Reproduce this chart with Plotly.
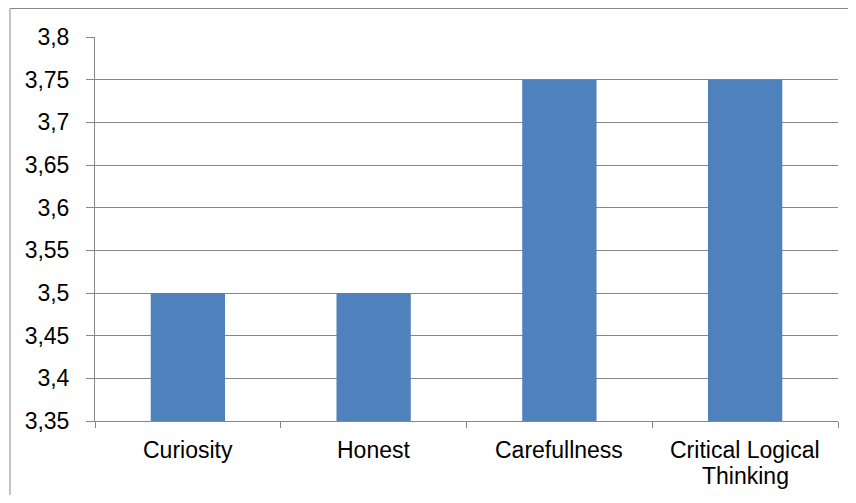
import plotly.graph_objects as go

categories = ["Curiosity", "Honest", "Carefullness", "Critical Logical<br>Thinking"]
values = [3.5, 3.5, 3.75, 3.75]
y_ticks = [3.35, 3.4, 3.45, 3.5, 3.55, 3.6, 3.65, 3.7, 3.75, 3.8]

# page body has an 8px margin
W, H = 840, 487
L, T = 87, 29
pw, ph = 743, 384
R, B = W - L - pw, H - T - ph
FS = 23

fig = go.Figure(go.Bar(x=categories, y=values, marker=dict(color="#4F81BD", line=dict(width=0)), width=0.4))

fig.update_layout(
    width=W, height=H,
    margin=dict(l=L, r=R, t=T, b=B, autoexpand=False),
    paper_bgcolor="white", plot_bgcolor="white",
    separators=",.",
    font=dict(family="Liberation Sans, Arial", size=FS, color="black"),
    showlegend=False,
    bargap=0.6,
)
fig.update_yaxes(
    range=[3.35, 3.8], tickvals=y_ticks, tickformat=".2~f",
    showgrid=True, gridcolor="#878787", gridwidth=1,
    showline=True, linecolor="#878787", linewidth=1,
    ticks="outside", ticklen=8, tickcolor="#878787",
    ticklabelstandoff=12,
    zeroline=False,
)
fig.update_xaxes(
    showline=True, linecolor="#878787", linewidth=1,
    ticks="outside", ticklen=6, tickcolor="#878787", tickson="boundaries",
    showticklabels=False,
    showgrid=False,
)
# category labels (tighter line spacing than plotly's tick labels)
for cat in categories:
    for i, line in enumerate(cat.split("<br>")):
        fig.add_annotation(x=cat, y=0, xref="x", yref="paper", text=line,
                           showarrow=False, xanchor="center", yanchor="top",
                           yshift=-(13.5 + i * 26),
                           font=dict(size=FS, color="black"))

# outer chart border (clipped at right/bottom in the reference)
fig.add_shape(type="rect", xref="paper", yref="paper",
              x0=(2 - L) / pw, x1=(W + 20 - L) / pw,
              y0=-(H + 20 - T - ph) / ph, y1=1 + (T - 0.5) / ph,
              line=dict(color="#888888", width=1), layer="below")

fig.write_html("out.html")
